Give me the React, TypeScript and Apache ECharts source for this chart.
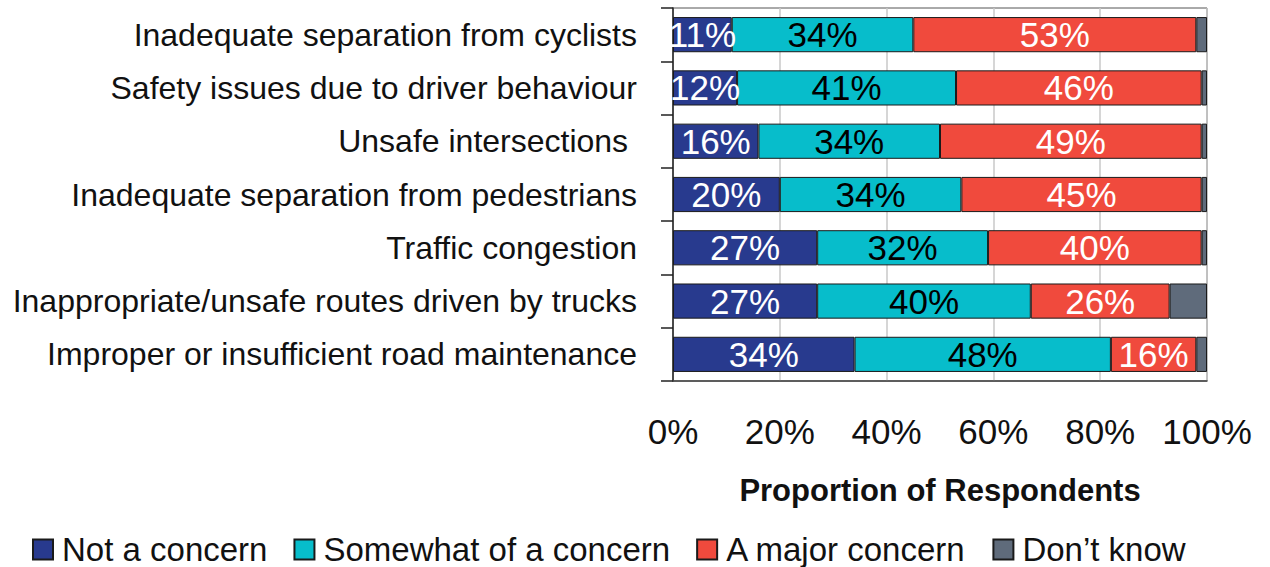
import React, { useEffect, useRef } from "react";
import * as echarts from "echarts";

const categories = [
  "Inadequate separation from cyclists",
  "Safety issues due to driver behaviour",
  "Unsafe intersections ",
  "Inadequate separation from pedestrians",
  "Traffic congestion",
  "Inappropriate/unsafe routes driven by trucks",
  "Improper or insufficient road maintenance",
];
const notConcern = [11, 12, 16, 20, 27, 27, 34];
const somewhat = [34, 41, 34, 34, 32, 40, 48];
const major = [53, 46, 49, 45, 40, 26, 16];
const dontKnow = [2, 1, 1, 1, 1, 7, 2];
const xTicks = [0, 20, 40, 60, 80, 100];

const FONT = "'Liberation Sans', Arial, Helvetica, sans-serif";

export default function App() {
  const ref = useRef<HTMLDivElement>(null);
  useEffect(() => {
    if (!ref.current) return;
    const chart = echarts.init(ref.current, null, { renderer: "svg" });
    const mk = (name: string, data: number[], color: string, labelColor: string | null) => ({
      name,
      type: "bar",
      stack: "total",
      data,
      barCategoryGap: "34%",
      itemStyle: { color, borderColor: "#1a1a1a", borderWidth: 1 },
      label: labelColor
        ? {
            show: true,
            position: "inside",
            formatter: "{c}%",
            color: labelColor,
            fontSize: 35,
            fontFamily: FONT,
          }
        : { show: false },
      emphasis: { disabled: true },
    });
    chart.setOption({
      animation: false,
      textStyle: { fontFamily: FONT },
      grid: {
        left: 673,
        right: 63,
        top: 8,
        bottom: 186,
        show: true,
        borderColor: "#555",
        borderWidth: 1,
        containLabel: false,
      },
      legend: {
        top: 528,
        left: 27,
        itemWidth: 20,
        itemHeight: 20,
        itemGap: 26,
        icon: "rect",
        textStyle: {
          fontSize: 33,
          lineHeight: 30,
          color: "#111",
          fontFamily: FONT,
          padding: [0, 0, 0, 4],
        },
        data: ["Not a concern", "Somewhat of a concern", "A major concern", "Don\u2019t know"],
      },
      xAxis: {
        type: "value",
        min: 0,
        max: 100,
        interval: 20,
        name: "Proportion of Respondents",
        nameLocation: "middle",
        nameGap: 94,
        nameTextStyle: { fontSize: 31, fontWeight: "bold", color: "#111", fontFamily: FONT },
        axisLine: { show: true, lineStyle: { color: "#444", width: 1.5 } },
        axisTick: { show: false },
        axisLabel: {
          fontSize: 35,
          color: "#111",
          margin: 33,
          fontFamily: FONT,
          formatter: (v: number) => (xTicks.includes(v) ? v + "%" : ""),
        },
        splitLine: { show: true, lineStyle: { color: "#c8c8c8", width: 1.5 } },
      },
      yAxis: {
        type: "category",
        data: categories,
        inverse: true,
        axisLine: { show: true, lineStyle: { color: "#222", width: 1.5 } },
        axisTick: { show: true, length: 12, lineStyle: { color: "#222", width: 1.5 } },
        axisLabel: { fontSize: 32, color: "#111", margin: 36, fontFamily: FONT },
      },
      series: [
        mk("Not a concern", notConcern, "#283a8e", "#ffffff"),
        mk("Somewhat of a concern", somewhat, "#07bdcb", "#000000"),
        mk("A major concern", major, "#f04a3d", "#ffffff"),
        mk("Don\u2019t know", dontKnow, "#5f6b7b", null),
      ],
    });
    return () => chart.dispose();
  }, []);
  return (
    <div
      ref={ref}
      style={{ position: "fixed", left: 0, top: 0, width: 1270, height: 567, background: "#fff" }}
    />
  );
}
